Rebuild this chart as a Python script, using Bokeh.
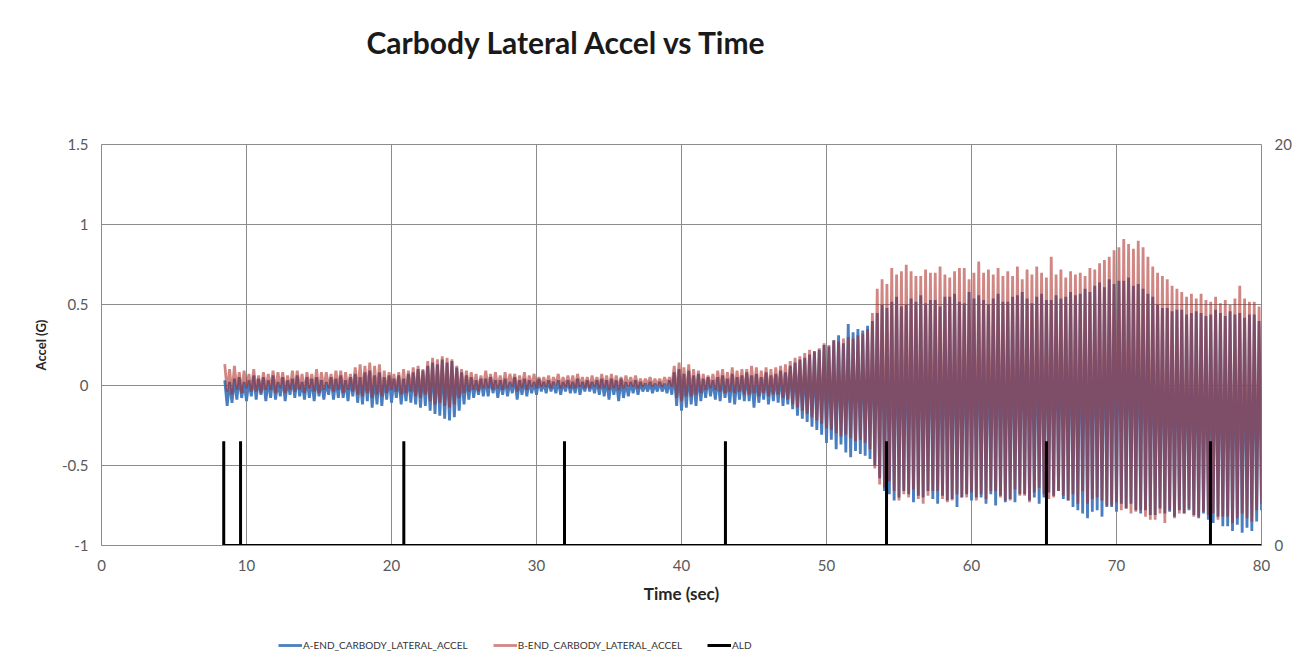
from bokeh.plotting import figure
from bokeh.models import Range1d, LinearAxis, FixedTicker, Legend, LegendItem, Title
from bokeh.layouts import column
from bokeh.embed import file_html
from bokeh.resources import INLINE

# ---------------- data ----------------
title_text = "Carbody Lateral Accel vs Time"
x_label = "Time (sec)"
y_label = "Accel (G)"

sample_start = 8.5        # s, first sample of both accel records
sample_step = 1.0 / 6.0   # s, spacing of the read-off extrema

# A-END carbody lateral accel (G): alternating peaks/troughs, one row per second
a_end = [
    0.03, -0.13, 0.02, -0.11, 0.04, -0.09,
    0.05, -0.08, 0.02, -0.10, 0.03, -0.07,
    0.06, -0.09, 0.04, -0.06, 0.05, -0.10,
    0.03, -0.08, 0.06, -0.09, 0.02, -0.07,
    0.05, -0.10, 0.03, -0.06, 0.04, -0.08,
    0.06, -0.07, 0.02, -0.09, 0.05, -0.08,
    0.04, -0.10, 0.05, -0.07, 0.03, -0.09,
    0.02, -0.06, 0.05, -0.09, 0.04, -0.08,
    0.06, -0.08, 0.03, -0.10, 0.05, -0.07,
    0.07, -0.11, 0.05, -0.12, 0.08, -0.10,
    0.09, -0.14, 0.06, -0.12, 0.08, -0.13,
    0.05, -0.09, 0.06, -0.11, 0.04, -0.08,
    0.06, -0.12, 0.04, -0.10, 0.07, -0.11,
    0.08, -0.12, 0.10, -0.14, 0.09, -0.13,
    0.12, -0.16, 0.14, -0.18, 0.13, -0.19,
    0.16, -0.21, 0.14, -0.22, 0.15, -0.20,
    0.11, -0.16, 0.08, -0.12, 0.06, -0.09,
    0.05, -0.08, 0.03, -0.06, 0.04, -0.07,
    0.04, -0.07, 0.05, -0.05, 0.03, -0.08,
    0.03, -0.06, 0.04, -0.07, 0.02, -0.05,
    0.05, -0.09, 0.03, -0.06, 0.04, -0.07,
    0.03, -0.05, 0.02, -0.06, 0.04, -0.04,
    0.02, -0.05, 0.03, -0.04, 0.02, -0.05,
    0.03, -0.06, 0.02, -0.04, 0.03, -0.05,
    0.02, -0.05, 0.04, -0.06, 0.02, -0.04,
    0.03, -0.04, 0.02, -0.05, 0.03, -0.06,
    0.04, -0.07, 0.03, -0.09, 0.04, -0.06,
    0.03, -0.10, 0.04, -0.08, 0.02, -0.07,
    0.02, -0.05, 0.03, -0.06, 0.02, -0.04,
    0.01, -0.04, 0.02, -0.05, 0.01, -0.04,
    0.02, -0.04, 0.01, -0.05, 0.03, -0.06,
    0.08, -0.13, 0.10, -0.16, 0.07, -0.14,
    0.09, -0.12, 0.06, -0.13, 0.07, -0.10,
    0.04, -0.08, 0.05, -0.07, 0.03, -0.09,
    0.05, -0.10, 0.06, -0.08, 0.04, -0.11,
    0.07, -0.12, 0.05, -0.09, 0.06, -0.10,
    0.08, -0.10, 0.06, -0.14, 0.07, -0.11,
    0.05, -0.09, 0.08, -0.12, 0.06, -0.10,
    0.07, -0.11, 0.09, -0.13, 0.08, -0.12,
    0.12, -0.15, 0.14, -0.19, 0.16, -0.21,
    0.17, -0.23, 0.19, -0.26, 0.21, -0.28,
    0.22, -0.31, 0.25, -0.36, 0.24, -0.34,
    0.28, -0.40, 0.31, -0.37, 0.26, -0.42,
    0.38, -0.45, 0.33, -0.41, 0.35, -0.43,
    0.34, -0.44, 0.37, -0.46, 0.40, -0.50,
    0.45, -0.58, 0.50, -0.66, 0.48, -0.68,
    0.52, -0.72, 0.55, -0.70, 0.49, -0.66,
    0.50, -0.68, 0.54, -0.73, 0.52, -0.69,
    0.56, -0.70, 0.51, -0.66, 0.53, -0.71,
    0.53, -0.74, 0.49, -0.69, 0.55, -0.72,
    0.55, -0.71, 0.57, -0.76, 0.52, -0.70,
    0.51, -0.68, 0.58, -0.72, 0.54, -0.70,
    0.56, -0.70, 0.53, -0.74, 0.50, -0.68,
    0.54, -0.75, 0.57, -0.69, 0.52, -0.73,
    0.52, -0.71, 0.55, -0.73, 0.56, -0.68,
    0.58, -0.68, 0.54, -0.72, 0.51, -0.70,
    0.55, -0.74, 0.57, -0.70, 0.53, -0.67,
    0.53, -0.69, 0.56, -0.66, 0.54, -0.71,
    0.55, -0.72, 0.58, -0.76, 0.56, -0.78,
    0.57, -0.80, 0.60, -0.83, 0.58, -0.79,
    0.62, -0.78, 0.64, -0.82, 0.61, -0.76,
    0.66, -0.76, 0.63, -0.79, 0.65, -0.74,
    0.65, -0.77, 0.67, -0.74, 0.62, -0.78,
    0.63, -0.80, 0.60, -0.78, 0.57, -0.81,
    0.55, -0.81, 0.50, -0.77, 0.48, -0.80,
    0.48, -0.79, 0.46, -0.82, 0.47, -0.78,
    0.47, -0.80, 0.44, -0.78, 0.45, -0.81,
    0.46, -0.83, 0.45, -0.80, 0.43, -0.84,
    0.44, -0.86, 0.47, -0.82, 0.45, -0.88,
    0.43, -0.88, 0.46, -0.91, 0.44, -0.87,
    0.45, -0.92, 0.42, -0.89, 0.44, -0.91,
    0.44, -0.85, 0.40, -0.78, 0.38, -0.70,
]

# B-END carbody lateral accel (G)
b_end = [
    0.13, -0.04, 0.10, -0.06, 0.12, -0.03,
    0.08, -0.05, 0.09, -0.02, 0.07, -0.04,
    0.10, -0.04, 0.06, -0.05, 0.08, -0.03,
    0.07, -0.03, 0.09, -0.05, 0.08, -0.02,
    0.08, -0.05, 0.06, -0.03, 0.09, -0.04,
    0.09, -0.03, 0.07, -0.05, 0.08, -0.02,
    0.07, -0.04, 0.10, -0.05, 0.08, -0.03,
    0.08, -0.02, 0.07, -0.04, 0.09, -0.03,
    0.09, -0.05, 0.08, -0.03, 0.07, -0.04,
    0.11, -0.06, 0.13, -0.07, 0.12, -0.05,
    0.14, -0.08, 0.12, -0.06, 0.13, -0.07,
    0.09, -0.05, 0.08, -0.03, 0.07, -0.04,
    0.08, -0.06, 0.10, -0.05, 0.09, -0.04,
    0.11, -0.07, 0.12, -0.08, 0.10, -0.06,
    0.15, -0.10, 0.17, -0.12, 0.16, -0.11,
    0.18, -0.13, 0.17, -0.14, 0.16, -0.12,
    0.12, -0.08, 0.10, -0.05, 0.09, -0.04,
    0.08, -0.03, 0.07, -0.04, 0.06, -0.02,
    0.09, -0.02, 0.07, -0.03, 0.08, -0.02,
    0.06, -0.03, 0.08, -0.02, 0.07, -0.01,
    0.07, -0.04, 0.06, -0.02, 0.08, -0.03,
    0.06, -0.01, 0.07, -0.02, 0.05, -0.01,
    0.05, -0.01, 0.06, -0.02, 0.05, 0.00,
    0.07, -0.02, 0.05, -0.01, 0.06, -0.02,
    0.06, -0.02, 0.07, -0.01, 0.05, -0.02,
    0.05, -0.02, 0.06, -0.01, 0.05, -0.02,
    0.07, -0.02, 0.06, -0.03, 0.07, -0.02,
    0.06, -0.03, 0.05, -0.02, 0.06, -0.01,
    0.05, -0.01, 0.06, -0.02, 0.04, -0.01,
    0.04, 0.00, 0.05, -0.01, 0.04, 0.00,
    0.04, -0.01, 0.05, 0.00, 0.05, -0.01,
    0.12, -0.08, 0.14, -0.10, 0.11, -0.07,
    0.13, -0.07, 0.10, -0.06, 0.09, -0.05,
    0.07, -0.03, 0.06, -0.02, 0.07, -0.03,
    0.09, -0.04, 0.10, -0.05, 0.08, -0.04,
    0.11, -0.05, 0.09, -0.04, 0.10, -0.06,
    0.10, -0.06, 0.12, -0.05, 0.11, -0.07,
    0.09, -0.05, 0.11, -0.07, 0.10, -0.06,
    0.11, -0.06, 0.12, -0.08, 0.13, -0.09,
    0.15, -0.12, 0.17, -0.14, 0.18, -0.16,
    0.20, -0.18, 0.22, -0.20, 0.21, -0.22,
    0.23, -0.24, 0.26, -0.27, 0.25, -0.28,
    0.28, -0.30, 0.27, -0.32, 0.29, -0.31,
    0.30, -0.33, 0.29, -0.35, 0.31, -0.34,
    0.32, -0.36, 0.35, -0.40, 0.45, -0.52,
    0.60, -0.62, 0.66, -0.64, 0.63, -0.60,
    0.73, -0.66, 0.69, -0.72, 0.71, -0.68,
    0.75, -0.70, 0.71, -0.65, 0.68, -0.71,
    0.68, -0.74, 0.72, -0.69, 0.70, -0.66,
    0.70, -0.66, 0.74, -0.71, 0.69, -0.73,
    0.67, -0.72, 0.71, -0.68, 0.73, -0.70,
    0.73, -0.70, 0.66, -0.67, 0.70, -0.72,
    0.77, -0.68, 0.70, -0.71, 0.72, -0.66,
    0.69, -0.66, 0.73, -0.70, 0.68, -0.72,
    0.71, -0.72, 0.68, -0.65, 0.74, -0.69,
    0.66, -0.69, 0.72, -0.73, 0.69, -0.67,
    0.74, -0.64, 0.70, -0.68, 0.67, -0.71,
    0.80, -0.70, 0.69, -0.66, 0.72, -0.69,
    0.67, -0.72, 0.71, -0.68, 0.69, -0.74,
    0.70, -0.66, 0.68, -0.74, 0.73, -0.71,
    0.72, -0.70, 0.76, -0.72, 0.78, -0.75,
    0.80, -0.75, 0.84, -0.73, 0.86, -0.78,
    0.91, -0.77, 0.88, -0.80, 0.85, -0.79,
    0.90, -0.78, 0.86, -0.82, 0.80, -0.84,
    0.74, -0.84, 0.70, -0.80, 0.68, -0.86,
    0.66, -0.78, 0.62, -0.83, 0.60, -0.80,
    0.58, -0.80, 0.55, -0.77, 0.57, -0.82,
    0.54, -0.82, 0.57, -0.79, 0.53, -0.81,
    0.52, -0.80, 0.55, -0.84, 0.51, -0.82,
    0.53, -0.82, 0.50, -0.86, 0.54, -0.83,
    0.62, -0.80, 0.54, -0.83, 0.52, -0.85,
    0.52, -0.78, 0.49, -0.74, 0.45, -0.60,
]

# ALD event markers (right axis): spike times and spike level
ald_spike_times = [8.43, 9.59, 20.85, 31.93, 43.03, 54.14, 65.17, 76.48]
ald_spike_level = 5.2
ald_end_time = 80.0

x_ticks = [0, 10, 20, 30, 40, 50, 60, 70, 80]
y_ticks = [-1, -0.5, 0, 0.5, 1, 1.5]
y_tick_labels = ["-1", "-0.5", "0", "0.5", "1", "1.5"]
y2_ticks = [0, 20]

series_names = ["A-END_CARBODY_LATERAL_ACCEL", "B-END_CARBODY_LATERAL_ACCEL", "ALD"]

# ---------------- build series ----------------
a_time = [sample_start + sample_step * i for i in range(len(a_end))]
b_time = [sample_start + sample_step * i for i in range(len(b_end))]

ald_time = [ald_spike_times[0]]
ald_vals = [0.0]
for s in ald_spike_times:
    ald_time += [s, s, s]
    ald_vals += [0.0, ald_spike_level, 0.0]
ald_time.append(ald_end_time)
ald_vals.append(0.0)

# ---------------- styles ----------------
FONT = "Lato"
GRID = "#8C8C8C"
TICK_COLOR = "#595959"
A_STYLE = dict(line_color="#4A7EBF", line_width=2.8)
B_STYLE = dict(line_color="#A9241F", line_alpha=0.55, line_width=2.8)
ALD_STYLE = dict(line_color="black", line_width=3)

# ---------------- main chart ----------------
p = figure(frame_width=1160, frame_height=401,
           min_border_left=101, min_border_right=31,
           min_border_top=144, min_border_bottom=80,
           x_range=Range1d(0, 80), y_range=Range1d(-1, 1.5),
           output_backend="svg", toolbar_location=None,
           background_fill_color="white", border_fill_color="white")
p.extra_y_ranges = {"ald": Range1d(0, 20)}

# spacer between the title and the plot area, then the title itself
p.add_layout(Title(text=" ", text_font_size="10px", standoff=72), "above")
p.add_layout(Title(text=title_text, text_font=FONT, text_font_size="30px",
                   text_font_style="bold", text_color="#1a1a1a",
                   align="left", offset=265, standoff=0), "above")

p.outline_line_color = GRID
p.outline_line_width = 1

p.xaxis.ticker = FixedTicker(ticks=x_ticks)
p.yaxis.ticker = FixedTicker(ticks=y_ticks)
p.yaxis.major_label_overrides = dict(zip(y_ticks, y_tick_labels))
p.xgrid.ticker = FixedTicker(ticks=x_ticks)
p.ygrid.ticker = FixedTicker(ticks=y_ticks)
for g in (p.xgrid, p.ygrid):
    g.grid_line_color = GRID
    g.grid_line_width = 1

p.xaxis.axis_label = x_label
p.yaxis.axis_label = y_label

right = LinearAxis(y_range_name="ald", ticker=FixedTicker(ticks=y2_ticks))
p.add_layout(right, "right")

for ax in (p.xaxis[0], p.yaxis[0], right):
    ax.major_tick_out = 0
    ax.major_tick_in = 0
    ax.minor_tick_out = 0
    ax.minor_tick_in = 0
    ax.axis_line_color = GRID
    ax.major_label_text_font = FONT
    ax.major_label_text_font_size = "15px"
    ax.major_label_text_color = TICK_COLOR
    ax.axis_label_text_font = FONT
    ax.axis_label_text_font_style = "bold"
    ax.axis_label_text_color = "#262626"
right.axis_line_color = None
right.major_label_standoff = 7
p.xaxis.axis_label_text_font_size = "17px"
p.yaxis.axis_label_text_font_size = "13px"
p.xaxis.major_label_standoff = 14
p.xaxis.axis_label_standoff = 9
p.yaxis.major_label_standoff = 13
p.yaxis.axis_label_standoff = 10

p.line(a_time, a_end, **A_STYLE)
p.line(b_time, b_end, **B_STYLE)
p.line(ald_time, ald_vals, y_range_name="ald", **ALD_STYLE)

# ---------------- legend strip under the chart ----------------
# (its frame is aligned with the chart's frame by the column layout)
leg = figure(frame_width=1160, frame_height=46,
             min_border_left=101, min_border_right=31,
             min_border_top=0, min_border_bottom=0,
             x_range=Range1d(0, 1), y_range=Range1d(0, 1),
             x_axis_type=None, y_axis_type=None,
             output_backend="svg", toolbar_location=None,
             background_fill_color="white", border_fill_color="white")
leg.outline_line_color = None
leg.xgrid.visible = False
leg.ygrid.visible = False
# legend proxies: styled like the series, kept outside the strip's visible range
la = leg.line([-2, -1], [-2, -1], **A_STYLE)
lb = leg.line([-2, -1], [-2, -1], **B_STYLE)
lc = leg.line([-2, -1], [-2, -1], **ALD_STYLE)

legend = Legend(items=[LegendItem(label=series_names[0], renderers=[la]),
                       LegendItem(label=series_names[1], renderers=[lb]),
                       LegendItem(label=series_names[2], renderers=[lc])],
                orientation="horizontal", location=(177, 16),
                glyph_width=24, glyph_height=20, label_standoff=1, spacing=25,
                padding=0, margin=0, border_line_alpha=0, background_fill_alpha=0,
                label_text_font=FONT, label_text_font_size="10px",
                label_text_color="#333333")
leg.add_layout(legend, "center")

layout = column(p, leg, spacing=0)
open("out.html", "w").write(file_html(layout, INLINE))
